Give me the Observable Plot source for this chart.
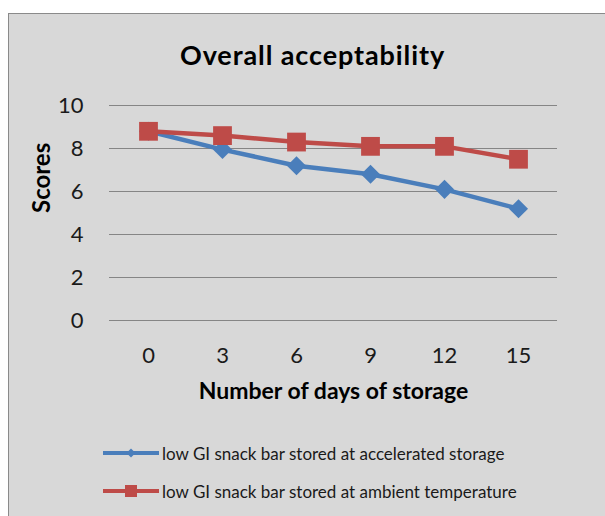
<!DOCTYPE html>
<html><head><meta charset="utf-8">
<script src="https://cdn.jsdelivr.net/npm/d3@7"></script>
<script src="https://cdn.jsdelivr.net/npm/@observablehq/plot@0.6"></script>
<style>
html,body{margin:0;padding:0;background:#fff;}
#wrap{position:relative;width:605px;height:516px;overflow:hidden;font-family:Lato,"Open Sans",sans-serif;}
#frame{position:absolute;left:8px;top:13px;width:640px;height:560px;background:#d8d8d8;border:1.5px solid #8a8a8a;}
#title{position:absolute;left:0;width:625px;top:40px;text-align:center;font-weight:bold;font-size:27px;letter-spacing:0.9px;color:#000;line-height:30px}
#chart{position:absolute;left:0;top:0}
#legend{position:absolute;left:103px;top:443px;font-size:17px;color:#1a1a1a}
.item{display:flex;align-items:center;height:20px;margin-bottom:18px}
.item svg{margin-right:3px}
</style></head>
<body>
<div id="wrap">
  <div id="frame"></div>
  <div id="chart"></div>
  <div id="title">Overall acceptability</div>
  <div id="legend"></div>
</div>
<script>
const days = [0, 3, 6, 9, 12, 15];
const accelerated = [8.8, 7.95, 7.2, 6.8, 6.1, 5.2];
const ambient = [8.8, 8.6, 8.3, 8.1, 8.1, 7.5];
const seriesNames = ["low GI snack bar stored at accelerated storage", "low GI snack bar stored at ambient temperature"];
const seriesColors = ["#4a7ebb", "#be4b48"];
const yTicks = [0, 2, 4, 6, 8, 10];

const rows = [];
days.forEach((d, i) => rows.push({day: d, score: accelerated[i], series: seriesNames[0]}));
days.forEach((d, i) => rows.push({day: d, score: ambient[i], series: seriesNames[1]}));
const accRows = rows.filter(r => r.series === seriesNames[0]);
const ambRows = rows.filter(r => r.series === seriesNames[1]);

const chart = Plot.plot({
  width: 605, height: 430,
  marginLeft: 109, marginRight: 48, marginTop: 105, marginBottom: 110,
  style: {background: "transparent", fontFamily: "Lato, 'Open Sans', sans-serif", fontSize: "22px", color: "#1a1a1a"},
  x: {type: "point", domain: days, padding: 0.5, label: null},
  y: {domain: [0, 10], label: null},
  color: {domain: seriesNames, range: seriesColors},
  marks: [
    Plot.gridY(yTicks, {stroke: "#858585", strokeOpacity: 1, strokeWidth: 1.2}),
    Plot.axisY(yTicks, {tickSize: 0, tickPadding: 26, label: null, fontSize: 22}),
    Plot.axisX(days, {tickSize: 0, tickPadding: 27, label: null, fontSize: 22}),
    Plot.line(accRows, {x: "day", y: "score", stroke: "series", strokeWidth: 4.5}),
    Plot.dot(accRows, {x: "day", y: "score", fill: "series", symbol: "diamond2", r: 8.6, stroke: null}),
    Plot.line(ambRows, {x: "day", y: "score", stroke: "series", strokeWidth: 4.5}),
    Plot.dot(ambRows, {x: "day", y: "score", fill: "series", symbol: "square", r: 10.6, stroke: null}),
    Plot.text(["Scores"], {frameAnchor: "left", dx: -67, rotate: -90, fontWeight: "bold", fontSize: 24, fill: "#000"}),
    Plot.text(["Number of days of storage"], {frameAnchor: "bottom", dy: 78, fontWeight: "bold", fontSize: 23, fill: "#000"})
  ]
});
document.getElementById("chart").appendChild(chart);

const legend = document.getElementById("legend");
seriesNames.forEach((name, i) => {
  const item = document.createElement("div");
  item.className = "item";
  const marker = i === 0
    ? `<path d="M28,5.5 L32.5,10 L28,14.5 L23.5,10 Z" fill="${seriesColors[i]}"/>`
    : `<rect x="22" y="4" width="12" height="12" fill="${seriesColors[i]}"/>`;
  item.innerHTML = `<svg width="56" height="20"><line x1="0" x2="56" y1="10" y2="10" stroke="${seriesColors[i]}" stroke-width="4"/>${marker}</svg><span>${name}</span>`;
  legend.appendChild(item);
});
</script>
</body></html>
